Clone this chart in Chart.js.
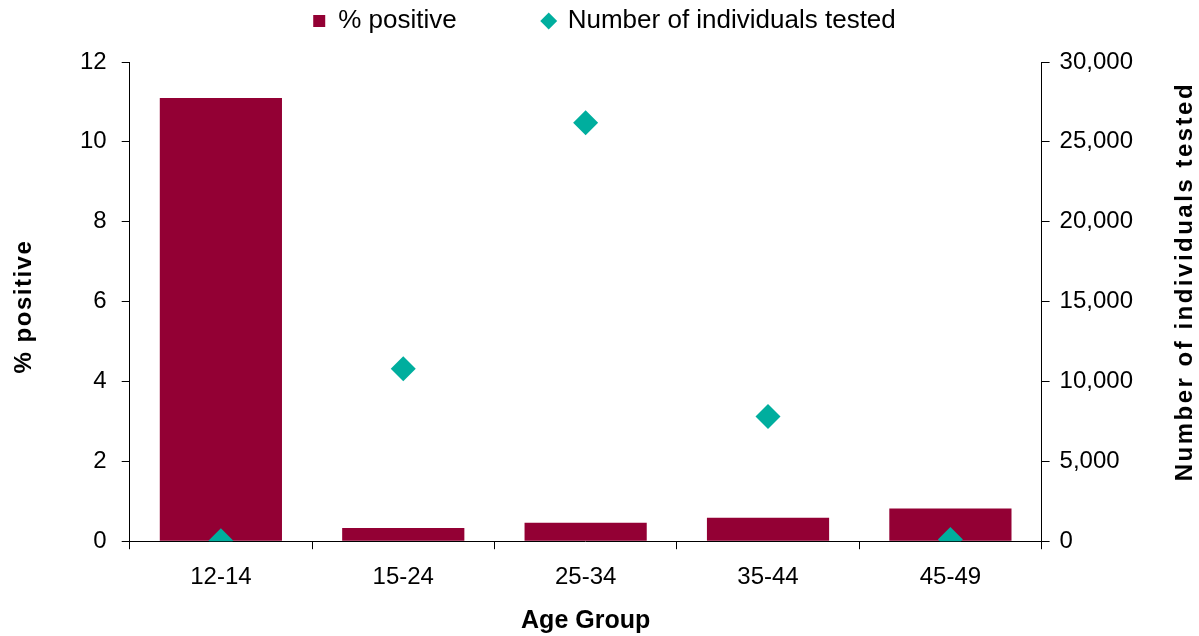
<!DOCTYPE html>
<html>
<head>
<meta charset="utf-8">
<script src="https://cdn.jsdelivr.net/npm/chart.js@4/dist/chart.umd.min.js"></script>
<style>
  html, body { margin: 0; padding: 0; background: #fff; }
  #wrap { width: 1199px; height: 636px; }
</style>
</head>
<body>
<div id="wrap"><canvas id="myChart"></canvas></div>
<script>
// Data
const ageGroups = ['12-14', '15-24', '25-34', '35-44', '45-49'];
const pctPositive = [11.1, 0.33, 0.46, 0.59, 0.82];
const numTested = [30, 10800, 26200, 7800, 100];
const leftTicks = [0, 2, 4, 6, 8, 10, 12];
const rightTicks = [0, 5000, 10000, 15000, 20000, 25000, 30000];

const FONT = "'Liberation Sans', Arial, sans-serif";
const barColor = '#930034';
const diamondColor = '#00AE9E';

// both y titles read bottom-to-top with a little letter spacing, drawn here
function drawVTitle(ctx, text, x, y) {
  ctx.save();
  ctx.translate(x, y);
  ctx.rotate(-Math.PI / 2);
  ctx.font = `bold 24px ${FONT}`;
  ctx.letterSpacing = text.length > 12 ? '2.5px' : '1.5px';
  ctx.fillStyle = '#000';
  ctx.textAlign = 'center';
  ctx.textBaseline = 'middle';
  ctx.fillText(text, 0, 0);
  ctx.restore();
}

const axisTitles = {
  id: 'axisTitles',
  afterDraw(chart) {
    const { ctx, chartArea } = chart;
    const mid = (chartArea.top + chartArea.bottom) / 2;
    drawVTitle(ctx, '% positive', 24, mid + 5);
    drawVTitle(ctx, 'Number of individuals tested', chart.width - 14, mid - 20);
  }
};

// a bit more room between the legend and the plot
const legendGap = {
  id: 'legendGap',
  beforeInit(chart) {
    const fit = chart.legend.fit;
    chart.legend.fit = function () {
      fit.call(this);
      this.height += 18;
    };
  }
};

const ctx = document.getElementById('myChart').getContext('2d');

new Chart(ctx, {
  type: 'bar',
  data: {
    labels: ageGroups,
    datasets: [
      {
        label: '% positive',
        data: pctPositive,
        backgroundColor: barColor,
        borderWidth: 0,
        barPercentage: 0.67,
        categoryPercentage: 1,
        pointStyle: 'rect',
        yAxisID: 'y',
        order: 2
      },
      {
        label: 'Number of individuals tested',
        type: 'line',
        data: numTested,
        showLine: false,
        pointStyle: 'rectRot',
        pointRadius: 12.5,
        pointHoverRadius: 12.5,
        backgroundColor: diamondColor,
        borderColor: diamondColor,
        borderWidth: 0,
        yAxisID: 'y1',
        order: 1
      }
    ]
  },
  options: {
    responsive: true,
    maintainAspectRatio: false,
    animation: false,
    layout: { padding: { top: 0, right: 0, bottom: 0, left: 10 } },
    plugins: {
      tooltip: { enabled: false },
      legend: {
        position: 'top',
        labels: {
          usePointStyle: true,
          boxWidth: 12,
          boxHeight: 12,
          padding: 8,
          color: '#000',
          font: { family: FONT, size: 26 },
          sort: (a, b) => a.datasetIndex - b.datasetIndex,
          generateLabels(chart) {
            const items = Chart.defaults.plugins.legend.labels.generateLabels(chart);
            items.forEach(it => {
              if (it.datasetIndex === 0) it.text = it.text + '\u2003\u2003\u2003';
            });
            return items;
          }
        }
      }
    },
    scales: {
      x: {
        grid: { display: true, drawOnChartArea: false, tickLength: 8, color: '#000', offset: true },
        border: { color: '#000', width: 1 },
        ticks: { color: '#000', font: { family: FONT, size: 24 }, padding: 14 },
        title: { display: true, text: 'Age Group', color: '#000', font: { family: FONT, size: 25, weight: 'bold' }, padding: { top: 0, bottom: 0 } }
      },
      y: {
        position: 'left',
        min: 0,
        max: 12,
        afterBuildTicks: axis => { axis.ticks = leftTicks.map(v => ({ value: v })); },
        afterFit: axis => { axis.width += 55; },
        grid: { display: true, drawOnChartArea: false, tickLength: 8, color: '#000' },
        border: { color: '#000', width: 1 },
        ticks: { color: '#000', font: { family: FONT, size: 24 }, padding: 15 }
      },
      y1: {
        position: 'right',
        min: 0,
        max: 30000,
        afterBuildTicks: axis => { axis.ticks = rightTicks.map(v => ({ value: v })); },
        afterFit: axis => { axis.width += 56; },
        grid: { display: true, drawOnChartArea: false, tickLength: 8, color: '#000' },
        border: { color: '#000', width: 1 },
        ticks: {
          color: '#000',
          font: { family: FONT, size: 24 },
          padding: 10,
          callback: v => v.toLocaleString('en-US')
        }
      }
    }
  },
  plugins: [axisTitles, legendGap]
});
</script>
</body>
</html>
